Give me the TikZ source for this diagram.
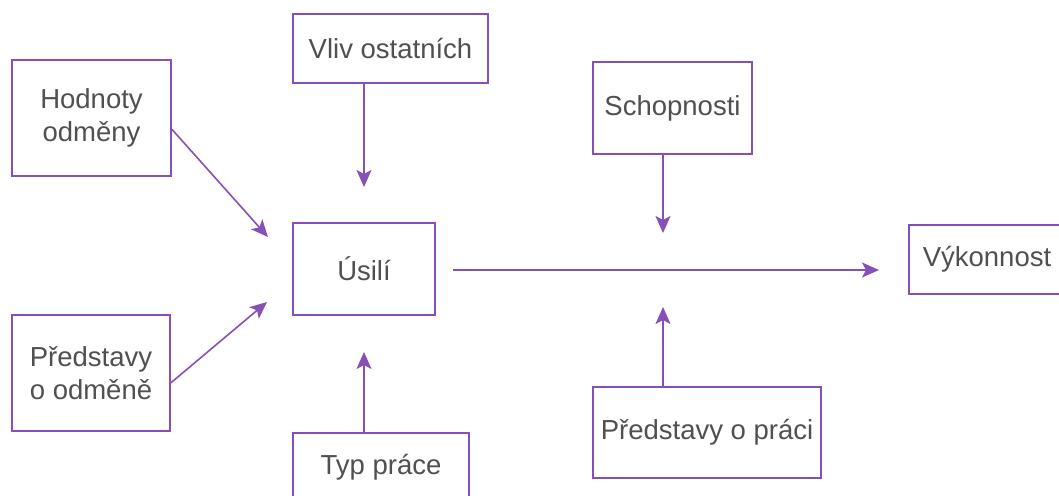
\documentclass[tikz,border=0pt]{standalone}
\usepackage{fontspec}
\setmainfont{Liberation Sans}
\usetikzlibrary{arrows.meta}
\definecolor{linepurple}{RGB}{135,80,185}
\definecolor{textgray}{RGB}{80,80,80}
\begin{document}
\begin{tikzpicture}[x=1pt,y=-1pt,
  box/.style={draw=linepurple, line width=1.8pt, rectangle, inner sep=0pt,
    text=textgray, align=center, font=\fontsize{27.5}{33}\selectfont},
  link/.style={draw=linepurple, line width=1.6pt,
    -{Stealth[length=17pt,width=15pt,inset=4pt]}}]
\useasboundingbox (0,0) rectangle (1059,495);
\fill[white] (0,0) rectangle (1059,495);

% factors feeding effort
\node[box, minimum width=159pt, minimum height=116pt] (hod) at (91.5,118) {Hodnoty\\odměny};
\node[box, minimum width=158pt, minimum height=116pt] (pom) at (91,373) {Představy\\o odměně};
\node[box, minimum width=195pt, minimum height=69pt] (vliv) at (390.5,48.5) {Vliv ostatních};
\node[box, minimum width=142pt, minimum height=92pt] (usili) at (364,269) {Úsilí};
\node[box, minimum width=176pt, minimum height=68pt] (typ) at (381,467) {Typ práce};

% factors feeding performance
\node[box, minimum width=159pt, minimum height=92pt] (schop) at (672.5,108) {Schopnosti};
\node[box, minimum width=228pt, minimum height=91pt] (pprac) at (707,432.5) {Představy o práci};
\node[box, minimum width=156pt, minimum height=69pt] (vyk) at (987,259.5) {Výkonnost};

% arrow tips and the start of the main line
\coordinate (t1) at (268,237);
\coordinate (t2) at (267,302);
\coordinate (t3) at (364,187);
\coordinate (t4) at (364,352);
\coordinate (s5) at (453,270);
\coordinate (t5) at (879,270);
\coordinate (t6) at (663,233);
\coordinate (t7) at (663,307);

\draw[link] (hod.-8.6) -- (t1);
\draw[link] (pom.-7.2) -- (t2);
\draw[link] (vliv.south -| t3) -- (t3);
\draw[link] (typ.north -| t4) -- (t4);
\draw[link] (s5) -- (t5);
\draw[link] (schop.south -| t6) -- (t6);
\draw[link] (pprac.north -| t7) -- (t7);
\end{tikzpicture}
\end{document}
